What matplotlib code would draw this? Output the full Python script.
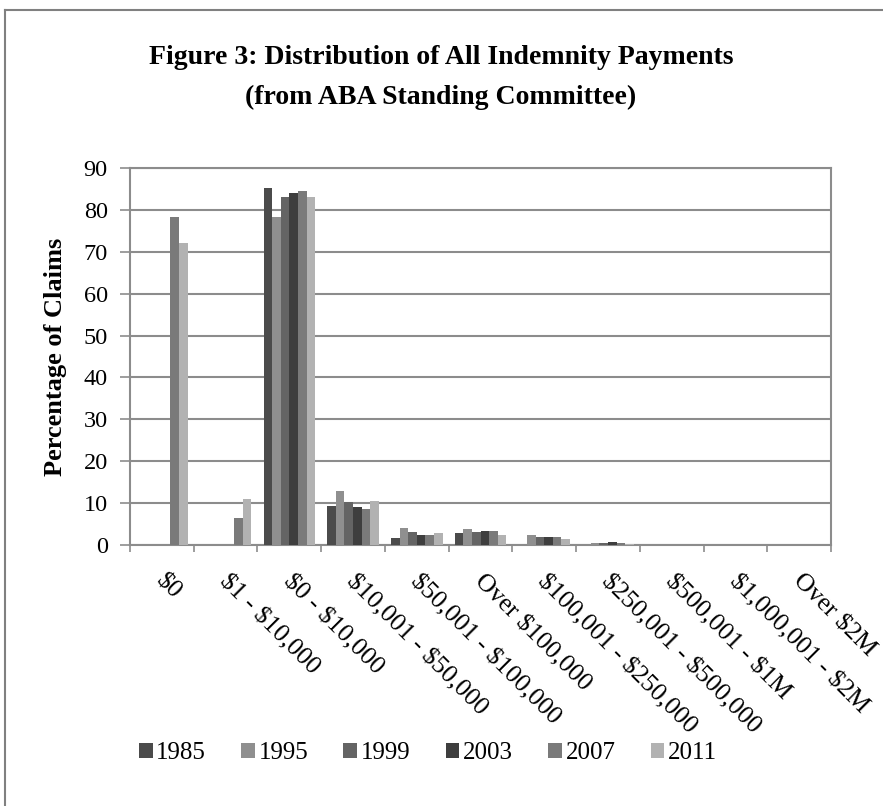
import numpy as np
import matplotlib
matplotlib.use("Agg")
import matplotlib.pyplot as plt
from matplotlib.patches import Patch
from matplotlib.lines import Line2D
from matplotlib import transforms

categories = ["$0", "$1 - $10,000", "$0 - $10,000", "$10,001 - $50,000",
              "$50,001 - $100,000", "Over $100,000", "$100,001 - $250,000",
              "$250,001 - $500,000", "$500,001 - $1M", "$1,000,001 - $2M",
              "Over $2M"]
years = ["1985", "1995", "1999", "2003", "2007", "2011"]

v1985 = [0, 0, 85.3, 9.4, 1.6, 2.8, 0, 0, 0, 0, 0]
v1995 = [0, 0, 78.2, 13.0, 4.0, 3.8, 2.3, 0.5, 0, 0, 0]
v1999 = [0, 0, 83.1, 10.2, 3.0, 3.0, 1.8, 0.5, 0, 0, 0]
v2003 = [0, 0, 84.1, 9.1, 2.5, 3.3, 1.8, 0.6, 0, 0, 0]
v2007 = [78.2, 6.4, 84.6, 8.6, 2.5, 3.3, 1.8, 0.5, 0, 0, 0]
v2011 = [72.1, 11.0, 83.1, 10.5, 2.8, 2.5, 1.5, 0.2, 0, 0, 0]
series = [v1985, v1995, v1999, v2003, v2007, v2011]
colors = ["#4b4b4b", "#8f8f8f", "#646464", "#3e3e3e", "#7a7a7a", "#b2b2b2"]

serif = ["Liberation Serif", "DejaVu Serif"]
plt.rcParams["font.family"] = serif
plt.rcParams["text.parse_math"] = False

W, H = 883, 806
fig = plt.figure(figsize=(W / 100, H / 100), dpi=100)
fig.patch.set_facecolor("white")

ax = fig.add_axes([130 / W, 1 - 545 / H, (831 - 130) / W, (545 - 168) / H])

n = len(categories)
x = np.arange(n)
bw = 0.135
for i, (vals, c) in enumerate(zip(series, colors)):
    off = (i - 2.5) * bw
    ax.bar(x + off, vals, width=bw, color=c, edgecolor="none", zorder=3)

grid_c = "#8c8c8c"
ax.set_xlim(-0.5, n - 0.5)
ax.set_ylim(0, 90)
ax.set_yticks(np.arange(0, 91, 10))
ax.yaxis.grid(True, color=grid_c, linewidth=1.5, zorder=0)
ax.set_axisbelow(True)
for s in ax.spines.values():
    s.set_color(grid_c)
    s.set_linewidth(1.5)
ax.tick_params(axis="y", direction="out", length=7, width=1.2, color=grid_c,
               pad=9, labelsize=17.5)
ax.set_xticks(np.arange(-0.5, n, 1.0))
ax.set_xticklabels([])
ax.tick_params(axis="x", direction="out", length=5, width=1.2, color=grid_c)

base = transforms.blended_transform_factory(ax.transData, ax.transAxes)
for xi, lab in zip(x, categories):
    tr = base + transforms.ScaledTranslation(-3 / 100, -33 / 100, fig.dpi_scale_trans)
    ax.text(xi, 0, lab, transform=tr, rotation=-45, rotation_mode="anchor",
            ha="left", va="center", fontsize=18.5, parse_math=False)

ax.set_ylabel("Percentage of Claims", fontsize=19, fontweight="bold", labelpad=12)

fig.text(441 / W, 1 - 58 / H, "Figure 3: Distribution of All Indemnity Payments",
         ha="center", va="center", fontsize=20, fontweight="bold")
fig.text(441 / W, 1 - 97 / H, "(from ABA Standing Committee)",
         ha="center", va="center", fontsize=20, fontweight="bold")

handles = [Patch(facecolor=c, edgecolor="none", label=y) for c, y in zip(colors, years)]
fig.legend(handles=handles, loc="center", bbox_to_anchor=(428 / W, 1 - 753 / H),
           ncol=6, frameon=False, fontsize=18, handlelength=0.55, handleheight=0.55,
           handletextpad=0.15, columnspacing=1.4)

fig.add_artist(Line2D([5 / W, 1], [1 - 10 / H, 1 - 10 / H], color="#808080", lw=1.5,
                      transform=fig.transFigure))
fig.add_artist(Line2D([5 / W, 5 / W], [0, 1 - 10 / H], color="#808080", lw=1.5,
                      transform=fig.transFigure))

fig.savefig("out.png", dpi=100)
